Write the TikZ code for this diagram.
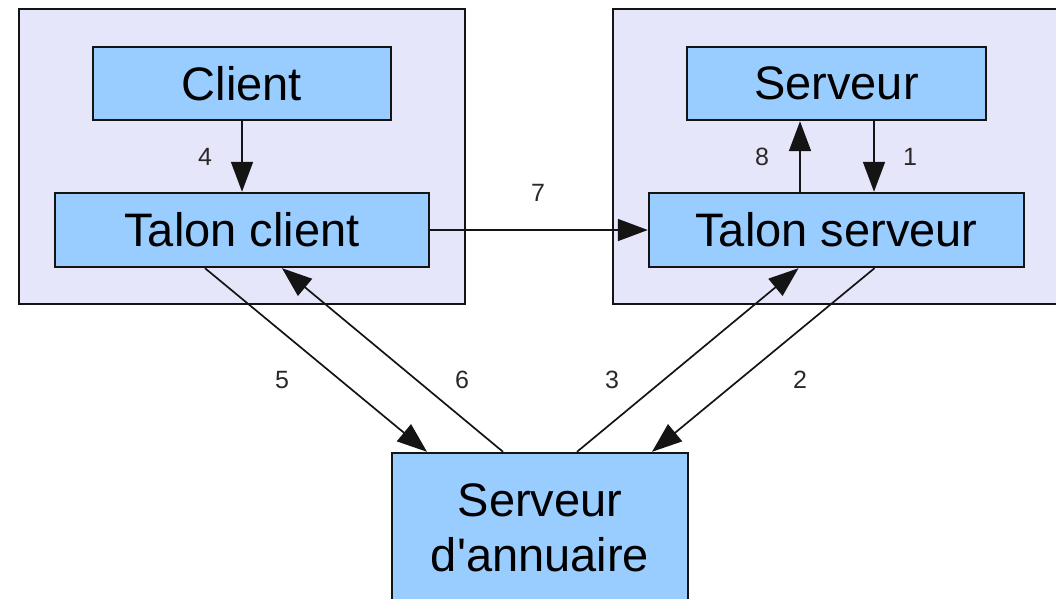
\documentclass[tikz,border=0pt]{standalone}
\usepackage{fontspec}
\setmainfont{Liberation Sans}
\usetikzlibrary{arrows.meta}
\definecolor{clusterfill}{RGB}{230,230,250}
\definecolor{nodefill}{RGB}{153,204,255}
\definecolor{edgeink}{RGB}{20,20,20}
\definecolor{labelink}{RGB}{45,40,40}
\begin{document}
\begin{tikzpicture}[x=1pt,y=-1pt,
  cluster/.style={draw=edgeink,line width=2.2pt,fill=clusterfill},
  comp/.style={draw=edgeink,line width=2.4pt,fill=nodefill,inner sep=0pt,
    font=\fontsize{47}{55}\selectfont,align=center},
  flow/.style={draw=edgeink,line width=1.7pt,
    -{Triangle[length=30pt,width=22pt]}},
  num/.style={text=labelink,font=\fontsize{25}{25}\selectfont,inner sep=0pt}]
  \useasboundingbox (0,0) rectangle (1056,598);
  % process groups
  \draw[cluster] (19,9) rectangle (465,304);
  \draw[cluster] (613,9) rectangle (1075,304);
  % components
  \node[comp,minimum width=298pt,minimum height=73pt] (client) at (242,83.5) {Client};
  \node[comp,minimum width=374pt,minimum height=74pt] (tclient) at (242,230) {Talon client};
  \node[comp,minimum width=299pt,minimum height=73pt] (serveur) at (836.5,83.5) {Serveur};
  \node[comp,minimum width=375pt,minimum height=74pt] (tserveur) at (836.5,230) {Talon serveur};
  \node[comp,minimum width=296pt,minimum height=149pt] (annuaire) at (540,527.5) {Serveur\\d\textquotesingle annuaire};
  % calls
  \draw[flow] (client.south) -- (tclient.north);
  \draw[flow] ([xshift=37.5pt]serveur.south) -- ([xshift=37.5pt]tserveur.north);
  \draw[flow] ([xshift=-36.5pt]tserveur.north) -- ([xshift=-36.5pt]serveur.south);
  \draw[flow] (tclient.east) -- (tserveur.west);
  \draw[flow] ([xshift=-37pt]tclient.south) -- ([xshift=-113pt]annuaire.north);
  \draw[flow] ([xshift=-37pt]annuaire.north) -- ([xshift=40pt]tclient.south);
  \draw[flow] ([xshift=37pt]annuaire.north) -- ([xshift=-38pt]tserveur.south);
  \draw[flow] ([xshift=38pt]tserveur.south) -- ([xshift=112pt]annuaire.north);
  % step numbers
  \node[num] (n1) at (910,157) {1};
  \node[num] (n2) at (800,380) {2};
  \node[num] (n3) at (612,380) {3};
  \node[num] (n4) at (205,157) {4};
  \node[num] (n5) at (282,380) {5};
  \node[num] (n6) at (462,380) {6};
  \node[num] (n7) at (538,193) {7};
  \node[num] (n8) at (762,157) {8};
\end{tikzpicture}
\end{document}
